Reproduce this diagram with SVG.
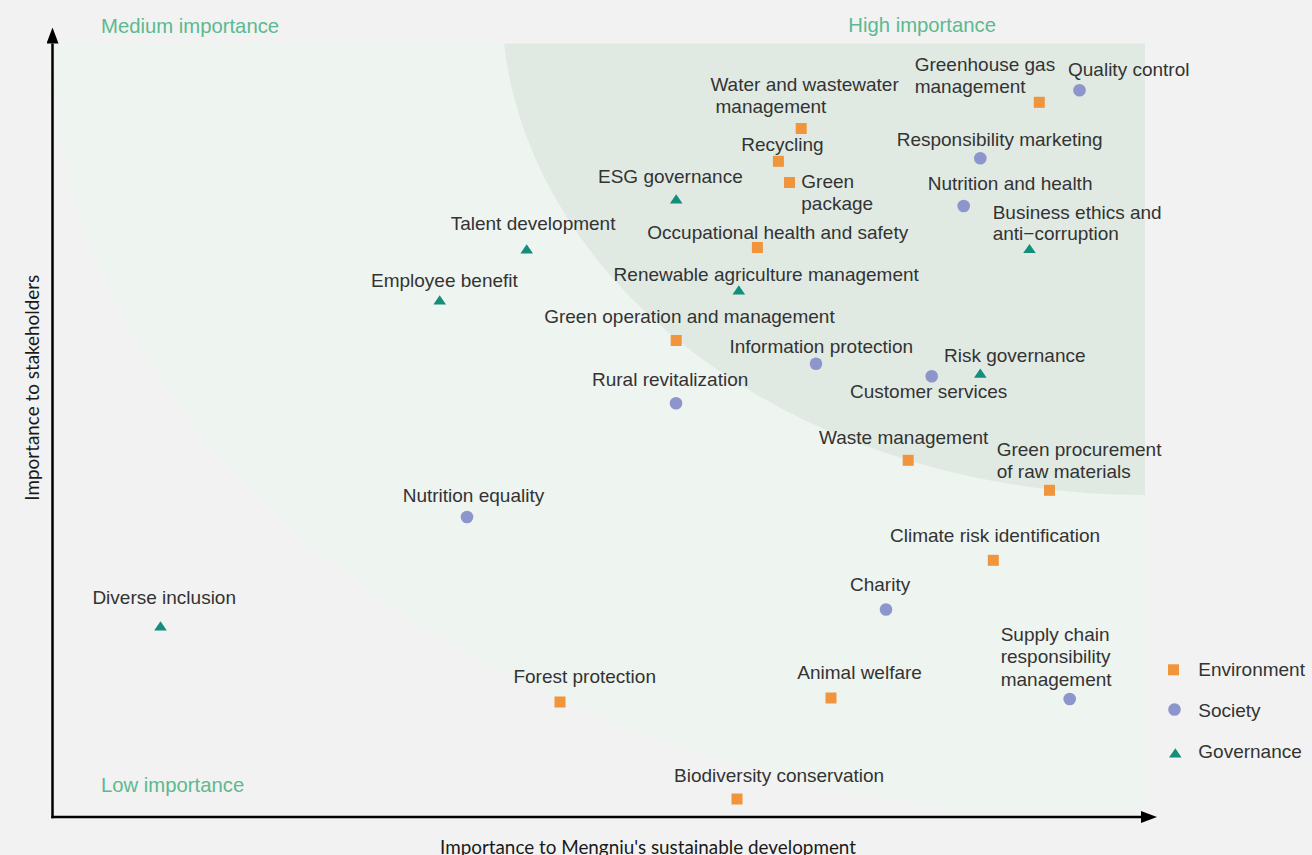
<svg xmlns="http://www.w3.org/2000/svg" xmlns:xlink="http://www.w3.org/1999/xlink" width="1312" height="855" viewBox="0 0 1312 855">
<style>
.lb{font-family:"Liberation Sans",Arial,sans-serif;font-size:19px;fill:#333333}
.rg{font-family:"Liberation Sans",Arial,sans-serif;font-size:20.3px;fill:#5cb990}
.ax{font-family:Lato,"Noto Sans",sans-serif;font-size:18.5px;fill:#1a1a1a}
.env{fill:#f0953c}
.soc{fill:#8c96cc}
.gov{fill:#138e7d}
.axis{stroke:#000;stroke-width:2.5;fill:none}
</style>
<defs>
<rect id="sq" x="-5.5" y="-5.5" width="11" height="11"/>
<circle id="ci" r="6.3"/>
<polygon id="tr" points="-6.3,4.4 6.3,4.4 0,-4.8"/>
<marker id="arr" viewBox="0 0 16 12" refX="0" refY="6" markerWidth="16" markerHeight="12" orient="auto" markerUnits="userSpaceOnUse">
<path d="M0,0 L16,6 L0,12 Z" fill="#000"/>
</marker>
</defs>
<rect width="1312" height="855" fill="#f2f2f2"/>
<g id="regions">
<path id="medium-region" d="M53,43.5 A1092,778 0 0 0 962,810 L1145,810 L1145,43.5 Z" fill="#eef4f0"/>
<path id="high-region" d="M504,43.5 A643.4,495 0 0 0 1145,495 L1145,43.5 Z" fill="#e0eae3"/>
<text class="rg" x="101" y="32.5">Medium importance</text>
<text class="rg" x="848.3" y="32.3">High importance</text>
<text class="rg" x="101" y="792">Low importance</text>
</g>
<g id="connectors">
<path class="axis" d="M52.5,818.2 V43.5" marker-end="url(#arr)"/>
<path class="axis" d="M51.3,817 H1141" marker-end="url(#arr)"/>
</g>
<text class="ax" transform="translate(38.5,500.7) rotate(-90)" textLength="226" lengthAdjust="spacingAndGlyphs">Importance to stakeholders</text>
<text class="ax" x="440" y="853.5" textLength="416" lengthAdjust="spacingAndGlyphs">Importance to Mengniu's sustainable development</text>

<g id="quality-control"><use xlink:href="#ci" class="soc" x="1079.5" y="90.3"/><text class="lb" x="1068" y="75.7">Quality control</text></g>
<g id="greenhouse-gas-management"><use xlink:href="#sq" class="env" x="1039.3" y="102.3"/><text class="lb" x="914.7" y="70.7">Greenhouse gas</text><text class="lb" x="914.7" y="93.3">management</text></g>
<g id="water-and-wastewater-management"><use xlink:href="#sq" class="env" x="801.2" y="128.5"/><text class="lb" x="710.4" y="90.7">Water and wastewater</text><text class="lb" x="715.5" y="113.3">management</text></g>
<g id="recycling"><use xlink:href="#sq" class="env" x="778.4" y="161.3"/><text class="lb" x="741.2" y="150.7">Recycling</text></g>
<g id="green-package"><use xlink:href="#sq" class="env" x="789.5" y="182.5"/><text class="lb" x="801.3" y="187.7">Green</text><text class="lb" x="801.3" y="210">package</text></g>
<g id="esg-governance"><use xlink:href="#tr" class="gov" x="676.2" y="199"/><text class="lb" x="598" y="183.3">ESG governance</text></g>
<g id="talent-development"><use xlink:href="#tr" class="gov" x="526.7" y="249"/><text class="lb" x="450.7" y="230">Talent development</text></g>
<g id="employee-benefit"><use xlink:href="#tr" class="gov" x="439.7" y="300"/><text class="lb" x="371" y="287.3">Employee benefit</text></g>
<g id="occupational-health-and-safety"><use xlink:href="#sq" class="env" x="757.4" y="247.5"/><text class="lb" x="647.3" y="239">Occupational health and safety</text></g>
<g id="renewable-agriculture-management"><use xlink:href="#tr" class="gov" x="738.8" y="290"/><text class="lb" x="613.6" y="280.7">Renewable agriculture management</text></g>
<g id="green-operation-and-management"><use xlink:href="#sq" class="env" x="676.2" y="340.5"/><text class="lb" x="544.2" y="322.7">Green operation and management</text></g>
<g id="information-protection"><use xlink:href="#ci" class="soc" x="816" y="363.7"/><text class="lb" x="729.4" y="352.7">Information protection</text></g>
<g id="rural-revitalization"><use xlink:href="#ci" class="soc" x="676" y="403.3"/><text class="lb" x="592" y="385.7">Rural revitalization</text></g>
<g id="responsibility-marketing"><use xlink:href="#ci" class="soc" x="980.3" y="158.3"/><text class="lb" x="896.7" y="146">Responsibility marketing</text></g>
<g id="nutrition-and-health"><use xlink:href="#ci" class="soc" x="963.7" y="206"/><text class="lb" x="927.7" y="190">Nutrition and health</text></g>
<g id="business-ethics-and-anti-corruption"><use xlink:href="#tr" class="gov" x="1029.5" y="248.7"/><text class="lb" x="992.7" y="218.7">Business ethics and</text><text class="lb" x="992.7" y="240">anti−corruption</text></g>
<g id="risk-governance"><use xlink:href="#tr" class="gov" x="980.3" y="373.3"/><text class="lb" x="944" y="361.7">Risk governance</text></g>
<g id="customer-services"><use xlink:href="#ci" class="soc" x="931.7" y="376.3"/><text class="lb" x="850" y="397.7">Customer services</text></g>
<g id="waste-management"><use xlink:href="#sq" class="env" x="908.2" y="460.3"/><text class="lb" x="819" y="444.3">Waste management</text></g>
<g id="green-procurement-of-raw-materials"><use xlink:href="#sq" class="env" x="1049.5" y="490.3"/><text class="lb" x="996.7" y="455.7">Green procurement</text><text class="lb" x="996.7" y="477.7">of raw materials</text></g>
<g id="nutrition-equality"><use xlink:href="#ci" class="soc" x="467" y="517"/><text class="lb" x="402.7" y="501.7">Nutrition equality</text></g>
<g id="climate-risk-identification"><use xlink:href="#sq" class="env" x="993.3" y="560.3"/><text class="lb" x="890" y="542.3">Climate risk identification</text></g>
<g id="charity"><use xlink:href="#ci" class="soc" x="886" y="609.5"/><text class="lb" x="850" y="590.5">Charity</text></g>
<g id="diverse-inclusion"><use xlink:href="#tr" class="gov" x="160.5" y="626"/><text class="lb" x="92.4" y="604.3">Diverse inclusion</text></g>
<g id="supply-chain-responsibility-management"><use xlink:href="#ci" class="soc" x="1069.7" y="699"/><text class="lb" x="1000.7" y="641">Supply chain</text><text class="lb" x="1000.7" y="663.3">responsibility</text><text class="lb" x="1000.7" y="686">management</text></g>
<g id="animal-welfare"><use xlink:href="#sq" class="env" x="831" y="698"/><text class="lb" x="797.3" y="679">Animal welfare</text></g>
<g id="forest-protection"><use xlink:href="#sq" class="env" x="560" y="702"/><text class="lb" x="513.4" y="683">Forest protection</text></g>
<g id="biodiversity-conservation"><use xlink:href="#sq" class="env" x="737" y="799"/><text class="lb" x="674" y="781.7">Biodiversity conservation</text></g>

<g id="legend">
<use xlink:href="#sq" class="env" x="1173.5" y="669.8"/><text class="lb" x="1198.3" y="676">Environment</text>
<use xlink:href="#ci" class="soc" x="1174.5" y="709.5"/><text class="lb" x="1198.3" y="716.7">Society</text>
<use xlink:href="#tr" class="gov" x="1175.3" y="753"/><text class="lb" x="1198.3" y="758.3">Governance</text>
</g>
</svg>
